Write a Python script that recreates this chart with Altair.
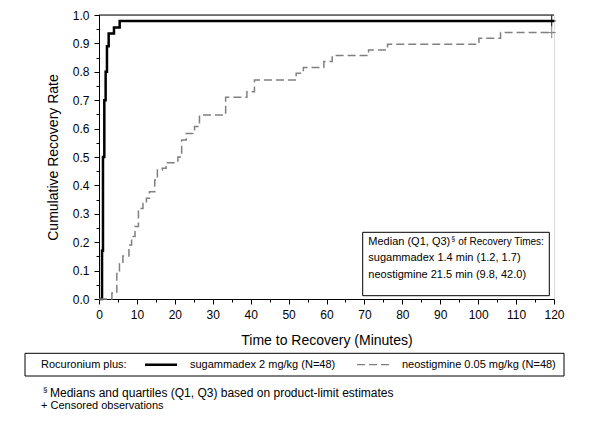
import altair as alt
import pandas as pd

FONT = "Liberation Sans"

series_names = ["sugammadex 2 mg/kg (N=48)", "neostigmine 0.05 mg/kg (N=48)"]
series_colors = ["black", "#808080"]
series_dash = [[1, 0], [8, 4]]
series_width = [2.5, 1.5]
legend_title = "Rocuronium plus:"

sug_time = [0, 0.8, 1.05, 1.4, 1.75, 2.1, 2.55, 3.95, 5.45, 120]
sug_rate = [0, 0.17, 0.50, 0.70, 0.80, 0.89, 0.935, 0.956, 0.979, 0.979]

neo_time = [0, 3.4, 4.7, 5.4, 6.3, 7.9, 8.6, 9.5, 10.4, 11.6, 12.5, 13.3, 14.7, 15.4,
            16.7, 17.7, 20.8, 21.8, 23.0, 25.2, 26.5, 33.4, 39.0, 41.0, 52.0, 53.9,
            59.3, 61.5, 71.1, 76.1, 100.2, 105.9, 120]
neo_rate = [0, 0.021, 0.096, 0.125, 0.151, 0.19, 0.22, 0.255, 0.319, 0.337, 0.355, 0.378,
            0.419, 0.454, 0.46, 0.48, 0.50, 0.56, 0.583, 0.607, 0.648, 0.71, 0.73, 0.771,
            0.795, 0.815, 0.836, 0.857, 0.877, 0.897, 0.918, 0.938, 0.938]

censor_time = [119.4, 119.4]
censor_rate = [0.979, 0.938]

x_ticks = list(range(0, 121, 5))
y_ticks = [round(i * 0.05, 2) for i in range(21)]

lines_df = pd.DataFrame({
    "series": [series_names[0]] * len(sug_time) + [series_names[1]] * len(neo_time),
    "time": sug_time + neo_time,
    "rate": sug_rate + neo_rate,
})
censor_df = pd.DataFrame({"series": series_names, "time": censor_time, "rate": censor_rate})

x_scale = alt.Scale(domain=[0, 120], nice=False, zero=False)
y_scale = alt.Scale(domain=[0, 1], nice=False)

x_axis = alt.Axis(
    title="Time to Recovery (Minutes)", values=x_ticks, format="d",
    labelExpr="datum.value % 10 == 0 ? datum.label : ''",
    tickSize={"condition": {"test": "datum.value % 10 == 0", "value": 5}, "value": 3},
    grid=False, labelOverlap=False, labelFlush=False, labelFontSize=12, titleFontSize=14,
    labelPadding=5, titlePadding=13, titleFontWeight="normal",
    domainColor="black", tickColor="black", labelColor="black", titleColor="black",
    labelFont=FONT, titleFont=FONT,
)
y_test = "abs(datum.value * 10 - round(datum.value * 10)) < 0.001"
y_axis = alt.Axis(
    title="Cumulative Recovery Rate", values=y_ticks, format=".1f",
    labelExpr=y_test + " ? datum.label : ''",
    tickSize={"condition": {"test": y_test, "value": 5}, "value": 3},
    grid=False, labelOverlap=False, labelFlush=False, labelFontSize=12, titleFontSize=14,
    labelPadding=5, titlePadding=12, titleFontWeight="normal",
    domainColor="black", tickColor="black", labelColor="black", titleColor="black",
    labelFont=FONT, titleFont=FONT,
)

lines = alt.Chart(lines_df).mark_line(interpolate="step-after").encode(
    x=alt.X("time:Q", scale=x_scale, axis=x_axis),
    y=alt.Y("rate:Q", scale=y_scale, axis=y_axis),
    color=alt.Color("series:N", scale=alt.Scale(domain=series_names, range=series_colors), legend=None),
    strokeDash=alt.StrokeDash("series:N", scale=alt.Scale(domain=series_names, range=series_dash), legend=None),
    strokeWidth=alt.StrokeWidth("series:N", scale=alt.Scale(type="ordinal", domain=series_names, range=series_width), legend=None),
)

censor = alt.Chart(censor_df).mark_point(
    shape="M-1,0L1,0M0,-1.4L0,1.4", filled=False, size=64, strokeWidth=1, opacity=1
).encode(
    x=alt.X("time:Q", scale=x_scale, axis=x_axis),
    y=alt.Y("rate:Q", scale=y_scale, axis=y_axis),
    stroke=alt.condition(alt.datum.series == series_names[0], alt.value(series_colors[0]), alt.value(series_colors[1])),
)

one = pd.DataFrame({"k": [0]})
top_rule = alt.Chart(one).mark_rule(color="black", strokeWidth=1).encode(y=alt.value(0))

ann_box = alt.Chart(one).mark_rect(fill="white", stroke="black", strokeWidth=1).encode(
    x=alt.value(263.7), x2=alt.value(450.3), y=alt.value(217.3), y2=alt.value(280.7)
)


def txt(s, x, y, size=11, align="left"):
    return alt.Chart(pd.DataFrame({"t": [s]})).mark_text(
        font=FONT, fontSize=size, align=align, baseline="middle", color="black"
    ).encode(text="t:N", x=alt.value(x), y=alt.value(y))


def sample(x1, x2, y, color, dash, width):
    return alt.Chart(one).mark_rule(color=color, strokeDash=dash, strokeWidth=width).encode(
        x=alt.value(x1), x2=alt.value(x2), y=alt.value(y)
    )


# legend box below the plot (drawn as a key)
leg_y = 349.7
leg_box = alt.Chart(one).mark_rect(fill="white", stroke="black", strokeWidth=1).encode(
    x=alt.value(-74), x2=alt.value(465), y=alt.value(338.3), y2=alt.value(361)
)
legend_parts = [
    leg_box,
    txt(legend_title, -58, leg_y),
    sample(46, 78, leg_y, series_colors[0], series_dash[0], 2.5),
    txt(series_names[0], 91, leg_y),
    sample(258, 291, leg_y, series_colors[1], series_dash[1], 1.2),
    txt(series_names[1], 303, leg_y),
]

ann = [
    txt("Median (Q1, Q3)", 269.3, 226.7),
    txt("§", 352.2, 223.5, size=7),
    txt("of Recovery Times:", 359.3, 226.7, size=10),
    txt("sugammadex 1.4 min (1.2, 1.7)", 269.3, 243.3),
    txt("neostigmine 21.5 min (9.8, 42.0)", 269.3, 260.0),
    txt("§", -56, 375, size=8),
    txt("Medians and quartiles (Q1, Q3) based on product-limit estimates", -49, 378, size=12),
    txt("+ Censored observations", -58, 391, size=11),
]

chart = alt.layer(lines, censor, top_rule, ann_box, *legend_parts, *ann).properties(
    width=455, height=284,
    padding={"left": 91, "top": 7, "right": 34, "bottom": 120},
    autosize=alt.AutoSizeParams(type="none"),
).configure_view(stroke=None).configure(font=FONT)

chart.save("out.html", embed_options={"renderer": "svg", "actions": False})
